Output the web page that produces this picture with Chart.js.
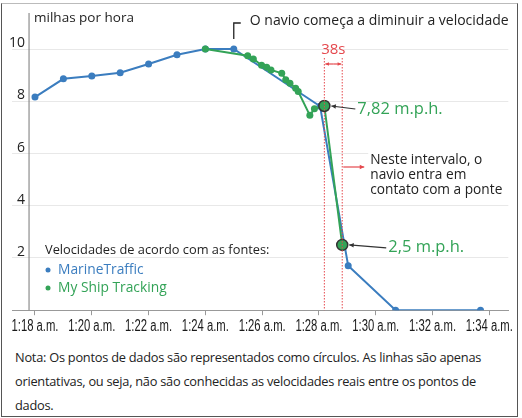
<!DOCTYPE html>
<html>
<head>
<meta charset="utf-8">
<script src="https://cdn.jsdelivr.net/npm/chart.js@4"></script>
<style>
  body { margin: 0; background: #fff; }
  #frame {
    position: absolute; left: 1px; top: 3px; width: 515px; height: 412px;
    border: 1.5px solid #555; border-top-color: #bbb;
  }
  #wrap { position: absolute; left: 0; top: 0; width: 522px; height: 345px; }
  #note {
    position: absolute; left: 15px; top: 345px; width: 505px; white-space: nowrap;
    font: 12.8px 'Open Sans', sans-serif; letter-spacing: -0.25px; line-height: 24px; color: #222;
  }
</style>
</head>
<body>
<div id="frame"></div>
<div id="wrap"><canvas id="myChart"></canvas></div>
<div id="note">Nota: Os pontos de dados são representados como círculos. As linhas são apenas<br>orientativas, ou seja, não são conhecidas as velocidades reais entre os pontos de<br>dados.</div>
<script>
// minutes after 1:00 a.m.
const blueTimes = [18, 19, 20, 21, 22, 23, 24, 25, 28.04, 29.03, 30.70, 33.69];
const blueSpeeds = [8.16, 8.86, 8.97, 9.09, 9.43, 9.78, 10.0, 10.0, 7.81, 1.7, 0, 0];

const greenTimes = [24.0, 25.49, 25.69, 25.98, 26.16, 26.31, 26.69, 26.83, 26.98, 27.18, 27.27, 27.68, 27.84, 28.19, 28.82];
const greenSpeeds = [10.0, 9.74, 9.62, 9.38, 9.30, 9.20, 9.07, 8.82, 8.69, 8.50, 8.37, 7.46, 7.71, 7.82, 2.5];
const circled = [13, 14];

const xTicks = [18, 20, 22, 24, 26, 28, 30, 32, 34];
const xTickLabels = ['1:18 a.m.', '1:20 a.m.', '1:22 a.m.', '1:24 a.m.', '1:26 a.m.', '1:28 a.m.', '1:30 a.m.', '1:32 a.m.', '1:34 a.m.'];
const yTicks = [2, 4, 6, 8, 10];

const BLUE = '#3b7dbf';
const GREEN = '#33a357';
const RED = '#e5484d';
const FONT = "'Open Sans', 'Noto Sans', sans-serif";

function pts(xs, ys) {
    return xs.map((x, i) => ({ x: x, y: ys[i] }));
}

function arrow(ctx, x1, y1, x2, y2, color, head) {
    const a = Math.atan2(y2 - y1, x2 - x1);
    ctx.strokeStyle = color;
    ctx.fillStyle = color;
    ctx.lineWidth = 1.2;
    ctx.beginPath();
    ctx.moveTo(x1, y1);
    ctx.lineTo(x2, y2);
    ctx.stroke();
    ctx.beginPath();
    ctx.moveTo(x2, y2);
    ctx.lineTo(x2 - head * Math.cos(a - 0.45), y2 - head * Math.sin(a - 0.45));
    ctx.lineTo(x2 - head * Math.cos(a + 0.45), y2 - head * Math.sin(a + 0.45));
    ctx.closePath();
    ctx.fill();
}

const extras = {
    id: 'extras',
    afterDatasetsDraw(chart) {
        const ctx = chart.ctx;
        const xs = chart.scales.x;
        const ys = chart.scales.y;
        const area = chart.chartArea;
        ctx.save();

        // y axis line
        const axX = xs.getPixelForValue(17.79);
        ctx.strokeStyle = '#777';
        ctx.lineWidth = 1;
        ctx.beginPath();
        ctx.moveTo(axX, area.top);
        ctx.lineTo(axX, area.bottom);
        ctx.stroke();

        // y tick labels, sitting above their grid lines
        ctx.fillStyle = '#222';
        ctx.font = '14px ' + FONT;
        ctx.textAlign = 'right';
        ctx.textBaseline = 'alphabetic';
        yTicks.forEach(v => {
            ctx.fillText(String(v), axX - 4, ys.getPixelForValue(v) - 2);
        });

        // x tick labels, squeezed like a narrow face
        ctx.textAlign = 'center';
        ctx.textBaseline = 'middle';
        ctx.fillStyle = '#1a1a1a';
        ctx.font = '16px "Liberation Sans", Arial, sans-serif';
        const squeeze = 47 / ctx.measureText(xTickLabels[0]).width;
        xTicks.forEach((v, i) => {
            const px = xs.getPixelForValue(v);
            ctx.save();
            ctx.translate(px, area.bottom + 16);
            ctx.scale(squeeze, 1);
            ctx.fillText(xTickLabels[i], 0, 0);
            ctx.restore();
        });

        ctx.fillStyle = '#222';
        ctx.textAlign = 'left';
        ctx.font = '13.5px ' + FONT;
        ctx.fillText('milhas por hora', axX + 5, 18);

        // slowdown note
        const bx = xs.getPixelForValue(blueTimes[7]);
        const by = ys.getPixelForValue(blueSpeeds[7]);
        ctx.strokeStyle = '#222';
        ctx.lineWidth = 1.3;
        ctx.beginPath();
        ctx.moveTo(bx, by - 10);
        ctx.lineTo(bx, 23);
        ctx.lineTo(bx + 7, 23);
        ctx.stroke();
        ctx.font = '14px ' + FONT;
        ctx.fillText('O navio começa a diminuir a velocidade', bx + 16, 21);

        // 38s interval
        const p1 = { x: xs.getPixelForValue(greenTimes[circled[0]]), y: ys.getPixelForValue(greenSpeeds[circled[0]]) };
        const p2 = { x: xs.getPixelForValue(greenTimes[circled[1]]), y: ys.getPixelForValue(greenSpeeds[circled[1]]) };
        ctx.strokeStyle = RED;
        ctx.lineWidth = 1;
        ctx.setLineDash([1.5, 1.5]);
        [p1.x, p2.x].forEach(x => {
            ctx.beginPath();
            ctx.moveTo(x, 58);
            ctx.lineTo(x, area.bottom);
            ctx.stroke();
        });
        ctx.setLineDash([]);
        const mid = (p1.x + p2.x) / 2;
        arrow(ctx, mid, 64, p2.x - 1, 64, RED, 4);
        arrow(ctx, mid, 64, p1.x + 1, 64, RED, 4);
        ctx.fillStyle = RED;
        ctx.textAlign = 'center';
        ctx.font = '15px ' + FONT;
        ctx.fillText('38s', mid, 50);

        // value callouts
        ctx.textAlign = 'left';
        ctx.font = '16.5px ' + FONT;
        arrow(ctx, p1.x + 31, p1.y + 3, p1.x + 7, p1.y, '#333', 5);
        ctx.fillStyle = GREEN;
        ctx.fillText(String(greenSpeeds[circled[0]]).replace('.', ',') + ' m.p.h.', p1.x + 33, p1.y + 3);
        arrow(ctx, p2.x + 44, p2.y + 3, p2.x + 7, p2.y, '#333', 5);
        ctx.fillStyle = GREEN;
        ctx.fillText(String(greenSpeeds[circled[1]]).replace('.', ',') + ' m.p.h.', p2.x + 46, p2.y + 2);

        // contact note
        ctx.fillStyle = '#fff';
        ctx.fillRect(p2.x + 26, 150, 145, 50);
        arrow(ctx, p2.x + 1, 167, p2.x + 22, 167, RED, 5);
        ctx.fillStyle = '#222';
        ctx.font = '13.7px ' + FONT;
        ['Neste intervalo, o', 'navio entra em', 'contato com a ponte'].forEach((t, i) => {
            ctx.fillText(t, p2.x + 28, 160 + i * 15);
        });

        // source legend
        ctx.font = '12.8px ' + FONT;
        ctx.fillStyle = '#222';
        ctx.fillText('Velocidades de acordo com as fontes:', 45, 250);
        ctx.font = '13.8px ' + FONT;
        [['MarineTraffic', BLUE, 270], ['My Ship Tracking', GREEN, 288]].forEach(([t, c, y]) => {
            ctx.fillStyle = c;
            ctx.beginPath();
            ctx.arc(48, y, 2.5, 0, Math.PI * 2);
            ctx.fill();
            ctx.fillText(t, 58, y);
        });

        ctx.restore();
    }
};

document.addEventListener('DOMContentLoaded', function () {
    const ctx = document.getElementById('myChart');

    new Chart(ctx, {
        type: 'line',
        data: {
            datasets: [{
                label: 'MarineTraffic',
                data: pts(blueTimes, blueSpeeds),
                borderColor: BLUE,
                backgroundColor: BLUE,
                borderWidth: 2,
                pointRadius: 3.5,
                pointBorderWidth: 0,
                tension: 0,
                order: 1
            },
            {
                label: 'My Ship Tracking',
                data: pts(greenTimes, greenSpeeds),
                borderColor: GREEN,
                backgroundColor: GREEN,
                borderWidth: 2,
                pointRadius: c => circled.includes(c.dataIndex) ? 5.5 : 3.5,
                pointBorderWidth: c => circled.includes(c.dataIndex) ? 1.5 : 0,
                pointBorderColor: c => circled.includes(c.dataIndex) ? '#333' : GREEN,
                tension: 0,
                order: 0
            }]
        },
        options: {
            responsive: true,
            maintainAspectRatio: false,
            animation: false,
            layout: { padding: { left: 12, right: 13, top: 13, bottom: 7 } },
            plugins: {
                legend: { display: false },
                tooltip: { enabled: false }
            },
            scales: {
                x: {
                    type: 'linear',
                    min: 17.19,
                    max: 34.67,
                    afterBuildTicks: s => { s.ticks = xTicks.map(v => ({ value: v })); },
                    ticks: {
                        autoSkip: false,
                        maxRotation: 0,
                        padding: 3,
                        color: 'rgba(0,0,0,0)',
                        font: { size: 14 },
                        callback: v => xTickLabels[xTicks.indexOf(v)]
                    },
                    grid: { drawOnChartArea: false, drawTicks: true, tickLength: 5, color: '#999' },
                    border: { color: '#999' }
                },
                y: {
                    min: 0,
                    max: 11.38,
                    afterBuildTicks: s => { s.ticks = yTicks.map(v => ({ value: v })); },
                    ticks: { display: false },
                    grid: { drawTicks: false, color: '#e8e8e8' },
                    border: { display: false }
                }
            }
        },
        plugins: [extras]
    });
});
</script>
</body>
</html>
